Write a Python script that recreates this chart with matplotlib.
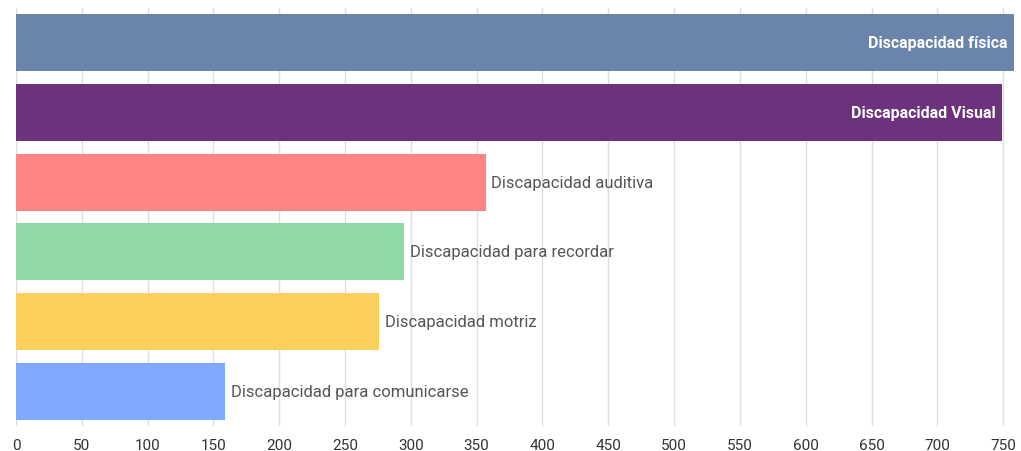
import matplotlib
matplotlib.use("Agg")
import matplotlib.pyplot as plt

categories = ["Discapacidad física", "Discapacidad Visual", "Discapacidad auditiva",
              "Discapacidad para recordar", "Discapacidad motriz", "Discapacidad para comunicarse"]
values = [758, 749, 357, 295, 276, 159]
colors = ["#6a84ab", "#6c327c", "#ff8585", "#90d8a8", "#fccf5c", "#80aaff"]
ticks = list(range(0, 751, 50))

plt.rcParams['font.family'] = ["Roboto", "DejaVu Sans"]

fig = plt.figure(figsize=(10.21, 4.52), dpi=100)
ax = fig.add_axes([16/1021, 1-427/452, (1015-16)/1021, (427-9)/452])
y = list(range(len(categories)))
ax.barh(y, values, height=0.82, color=colors, zorder=2)
ax.set_ylim(len(categories)-0.5, -0.5)
ax.set_xlim(0, 759)
ax.set_xticks(ticks)
ax.set_xticklabels([str(t) for t in ticks], fontsize=11, color="#333333")
ax.set_yticks([])
ax.grid(axis="x", color="#dddddd", linewidth=1, zorder=0)
for s in ax.spines.values():
    s.set_visible(False)
ax.tick_params(axis="x", length=0, pad=9)

for i, (c, v) in enumerate(zip(categories, values)):
    if i < 2:
        ax.text(v - 5, i, c, ha="right", va="center", color="white", fontsize=11.5, fontweight="bold", zorder=3)
    else:
        ax.text(v + 4, i, c, ha="left", va="center", color="#555555", fontsize=12, zorder=3)

fig.savefig("out.png", dpi=100)
